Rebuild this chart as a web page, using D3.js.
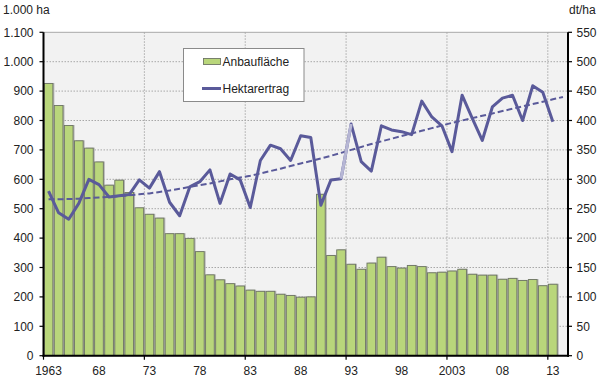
<!DOCTYPE html>
<html><head><meta charset="utf-8">
<script src="https://cdn.jsdelivr.net/npm/d3@7"></script>
<style>body{margin:0;background:#fff}svg{display:block;font-family:"Liberation Sans",Arial,sans-serif}</style>
</head><body>
<svg id="c" width="600" height="379"></svg>
<script>
const years = [1963,1964,1965,1966,1967,1968,1969,1970,1971,1972,1973,1974,1975,1976,1977,1978,1979,1980,1981,1982,1983,1984,1985,1986,1987,1988,1989,1990,1991,1992,1993,1994,1995,1996,1997,1998,1999,2000,2001,2002,2003,2004,2005,2006,2007,2008,2009,2010,2011,2012,2013,2014];
const area = [926,851,783,731,706,659,580,597,555,503, 481,468,415,415,399,354,275,258,245,237, 223,219,219,209,205,199,200,549,341,360, 311,294,315,335,303,298,307,303,282,284, 288,294,277,274,274,260,263,256,259,238,243];
const yieldVals = [280,243,232,259,300,291,270,272,274,299, 285,313,261,238,287,296,316,259,309,299, 252,332,358,352,332,374,371,256,299,301, 394,330,314,391,384,381,376,433,406,391, 347,443,404,366,423,438,443,400,459,448,398];
const trend = [266,266,266.5,267,268,269,270,271.5,273,274.5, 276,278.5,281,284,287,290,293,296.5,300,303, 306,310,314,318,322.5,327,331,335.5,340,345, 350,355,360,364.5,369,373.5,378,382.5,387,391.5, 396,400,404,408,412,416,420,424,428,432,436,440];
const leftTicks = [0,100,200,300,400,500,600,700,800,900,1000,1100];
const leftLabels = ["0","100","200","300","400","500","600","700","800","900","1.000","1.100"];
const rightTicks = [0,50,100,150,200,250,300,350,400,450,500,550];
const xLabelYears = [1963,1968,1973,1978,1983,1988,1993,1998,2003,2008,2013];
const xLabels = ["1963","68","73","78","83","88","93","98","2003","08","13"];
const gridYears = [1973,1983,1993,2003,2013];

const L=43.5, R=568, T=32.3, B=355.7;
const svg = d3.select("#c");
const x = d3.scaleBand().domain(years).range([L,R]).paddingInner(0.14).paddingOuter(0.07);
const step = x.step();
const xl = y => x(y) - x.paddingInner()*step/2; // left edge of slot
const xc = y => x(y) + x.bandwidth()/2;
const yL = d3.scaleLinear().domain([0,1100]).range([B,T]);
const yR = d3.scaleLinear().domain([0,550]).range([B,T]);

svg.append("rect").attr("x",L).attr("y",T).attr("width",R-L).attr("height",B-T).attr("fill","#f2f2f2");
// grid
svg.append("g").selectAll("line").data(leftTicks.slice(1)).join("line")
  .attr("x1",L).attr("x2",R).attr("y1",d=>yL(d)).attr("y2",d=>yL(d))
  .attr("stroke","#a8a8a8").attr("stroke-width",1).attr("stroke-dasharray",d=>d===1100?null:"1.5,1.5");
svg.append("g").selectAll("line").data(gridYears).join("line")
  .attr("x1",d=>xl(d)).attr("x2",d=>xl(d)).attr("y1",T).attr("y2",B)
  .attr("stroke","#a8a8a8").attr("stroke-width",1).attr("stroke-dasharray","1.5,1.5");

// bars
const bars = years.slice(0, area.length).map((yr,i)=>({yr, v:area[i]}));
svg.append("g").selectAll("rect").data(bars).join("rect")
  .attr("x",d=>x(d.yr)+1.5).attr("y",d=>yL(d.v)-0.5).attr("width",x.bandwidth()).attr("height",d=>B-yL(d.v)+0.5)
  .attr("fill","#b5b5b5");
svg.append("g").selectAll("rect").data(bars).join("rect")
  .attr("x",d=>x(d.yr)).attr("y",d=>yL(d.v)).attr("width",x.bandwidth()).attr("height",d=>B-yL(d.v))
  .attr("fill","#b9d67b").attr("stroke","#6e7564").attr("stroke-width",0.9);

// trend
const tPts = years.map((yr,i)=>[xc(yr), yR(trend[i])]);
svg.append("path").attr("d",d3.line()(tPts)).attr("fill","none")
  .attr("stroke","#5a5a9a").attr("stroke-width",2).attr("stroke-dasharray","6,3");

// yield line
const yPts = years.slice(0,yieldVals.length).map((yr,i)=>({yr, v:yieldVals[i]}));
const ln = d3.line().x(d=>xc(d.yr)).y(d=>yR(d.v));
svg.append("path").attr("d",ln(yPts)).attr("fill","none")
  .attr("stroke","#5a5a9a").attr("stroke-width",3).attr("stroke-linejoin","round");
svg.append("path").attr("d",ln(yPts.filter(d=>d.yr===1992||d.yr===1993))).attr("fill","none")
  .attr("stroke","#b6b6d4").attr("stroke-width",3);

// axes
const ax = svg.append("g").attr("stroke","#000");
ax.append("line").attr("x1",L).attr("x2",L).attr("y1",T).attr("y2",B+1).attr("stroke-width",2);
ax.append("line").attr("x1",R).attr("x2",R).attr("y1",T).attr("y2",B+1).attr("stroke-width",2);
ax.append("line").attr("x1",L-1).attr("x2",R+1).attr("y1",B).attr("y2",B).attr("stroke-width",2);
ax.selectAll(".lt").data(leftTicks).join("line").attr("x1",L-4).attr("x2",L).attr("y1",d=>yL(d)).attr("y2",d=>yL(d)).attr("stroke-width",1.2);
ax.selectAll(".rt").data(rightTicks).join("line").attr("x1",R).attr("x2",R+4).attr("y1",d=>yR(d)).attr("y2",d=>yR(d)).attr("stroke-width",1.2);
ax.selectAll(".bt").data([1963].concat(gridYears)).join("line").attr("x1",d=>xl(d)).attr("x2",d=>xl(d)).attr("y1",B).attr("y2",B+4).attr("stroke-width",1.2);

const txt = svg.append("g").attr("font-size",12).attr("fill","#222");
txt.selectAll(".ll").data(leftTicks).join("text").attr("x",33.5).attr("y",d=>yL(d)+4.3).attr("text-anchor","end").text((d,i)=>leftLabels[i]);
txt.selectAll(".rl").data(rightTicks).join("text").attr("x",576.5).attr("y",d=>yR(d)+4.3).text(d=>d);
txt.selectAll(".xl").data(xLabelYears).join("text").attr("x",d=>xc(d)).attr("y",374.5).attr("text-anchor","middle").text((d,i)=>xLabels[i]);
txt.append("text").attr("x",3).attr("y",13.5).text("1.000 ha");
txt.append("text").attr("x",569).attr("y",13.5).text("dt/ha");

// legend
const lg = svg.append("g");
lg.append("rect").attr("x",183.5).attr("y",48.5).attr("width",120.5).attr("height",53).attr("fill","#fff").attr("stroke","#8a8a8a");
lg.append("rect").attr("x",203.5).attr("y",58.5).attr("width",17).attr("height",6).attr("fill","#b9d67b").attr("stroke","#6e7564").attr("stroke-width",0.9);
lg.append("line").attr("x1",202).attr("x2",221).attr("y1",88.5).attr("y2",88.5).attr("stroke","#5a5a9a").attr("stroke-width",3);
lg.append("text").attr("x",222.5).attr("y",65.5).attr("font-size",12).attr("fill","#222").text("Anbaufläche");
lg.append("text").attr("x",222.5).attr("y",93).attr("font-size",12).attr("fill","#222").text("Hektarertrag");
</script>
</body></html>
